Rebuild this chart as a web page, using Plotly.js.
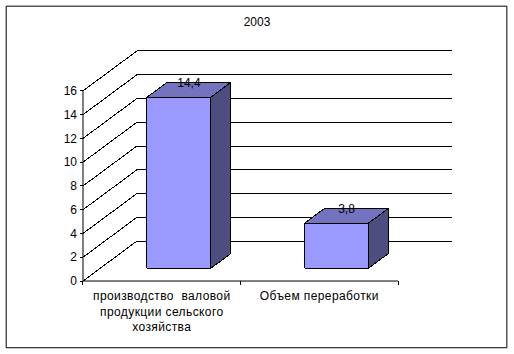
<!DOCTYPE html>
<html>
<head>
<meta charset="utf-8">
<script src="https://cdn.plot.ly/plotly-3.0.1.min.js"></script>
<style>
html,body{margin:0;padding:0;background:#fff}
#chart .scatterlayer path{shape-rendering:crispEdges}
#chart .xtick text{letter-spacing:0.4px}
</style>
</head>
<body>
<div id="chart" style="width:514px;height:354px"></div>
<script>
const categories = ["производство\u00A0\u00A0валовой<br>продукции сельского<br>хозяйства", "Объем переработки"];
const barValues = [14.4, 3.8];
const barLabels = ["14,4", "3,8"];
const valueTicks = [0, 2, 4, 6, 8, 10, 12, 14, 16];
const categoryEdges = [-0.5, 0.5, 1.5];
const chartTitle = "2003";

// oblique projection of the chart's depth axis, in axis units
const DX = 0.342, DY = 3.356;
const NEAR = 0.3175, FAR = 0.69, BAR_W = 0.405;
const X0 = -0.5, X1 = 1.5, YMAX = 16, LABEL_DROP = 0.15;
const UX = 158, UY = 11.934;                 // pixels per axis unit
const TICK_X = 3 / UX, TICK_Y = 4 / UY;      // tick lengths
const PAD_LEFT = 5, PAD_BOTTOM = 5, PAD_FAR = 2; // room for ticks and edge lines
const font = {family: "Liberation Sans, Arial, sans-serif", size: 12, color: "#000"};

const px = (x, d) => x + d * DX;
const py = (v, d) => v + d * DY;

// wall grid lines and tick marks as one path
const gx = [], gy = [];
const seg = (xs, ys) => { gx.push(...xs, null); gy.push(...ys, null); };
valueTicks.forEach(v => seg([px(X0,0), px(X0,1), px(X1,1)], [py(v,0), py(v,1), py(v,1)]));
valueTicks.forEach(v => seg([X0 - TICK_X, X0], [v, v]));
categoryEdges.forEach(c => seg([c, c], [0, -TICK_Y]));

const traces = [{
  type: "scatter", mode: "lines", x: gx, y: gy, hoverinfo: "skip", showlegend: false,
  line: {color: "#000", width: 1, simplify: false}
}];

const face = (xs, ys, fill) => ({
  type: "scatter", mode: "lines", x: xs.concat(xs[0]), y: ys.concat(ys[0]), fill: "toself",
  fillcolor: fill, line: {color: "#000", width: 1}, hoverinfo: "skip", showlegend: false
});

barValues.forEach((v, i) => {
  const l = i - BAR_W / 2, r = i + BAR_W / 2;
  traces.push(face(
    [px(l,NEAR), px(r,NEAR), px(r,NEAR), px(l,NEAR)],
    [py(0,NEAR), py(0,NEAR), py(v,NEAR), py(v,NEAR)], "#9999FF"));
  traces.push(face(
    [px(l,NEAR), px(r,NEAR), px(r,FAR), px(l,FAR)],
    [py(v,NEAR), py(v,NEAR), py(v,FAR), py(v,FAR)], "#7373BF"));
  traces.push(face(
    [px(r,NEAR), px(r,FAR), px(r,FAR), px(r,NEAR)],
    [py(0,NEAR), py(0,FAR), py(v,FAR), py(v,NEAR)], "#4D4D80"));
});

traces.push({
  type: "scatter", mode: "text",
  x: barValues.map((v, i) => px(i, (NEAR + FAR) / 2)),
  y: barValues.map(v => py(v, FAR) - LABEL_DROP),
  text: barLabels, textposition: "middle center", textfont: font,
  hoverinfo: "skip", showlegend: false
});

const L = 82.5 - PAD_LEFT, T = 50.5 - PAD_FAR, W = 370 + PAD_LEFT + PAD_FAR, H = 231 + PAD_BOTTOM + PAD_FAR;
const axisLine = (x0, y0, x1, y1) => ({
  type: "line", xref: "x", yref: "y", layer: "above", x0, y0, x1, y1,
  line: {color: "#000", width: 1}
});
const layout = {
  width: 514, height: 354, autosize: false,
  margin: {l: L, r: 514 - L - W, t: T, b: 354 - T - H, pad: 0},
  paper_bgcolor: "#fff", plot_bgcolor: "rgba(0,0,0,0)",
  font: font, showlegend: false,
  title: {text: chartTitle, font: font, x: (257 - L) / W, xref: "paper", xanchor: "center", yref: "container", y: 0.9375, yanchor: "middle"},
  xaxis: {
    type: "linear", range: [X0 - PAD_LEFT / UX, X1 + DX + PAD_FAR / UX], showgrid: false, zeroline: false, showline: false,
    tickmode: "array", tickvals: [0, 1], ticktext: categories, ticks: "", tickangle: 0,
    tickfont: font, fixedrange: true, ticklabelstandoff: 1
  },
  yaxis: {
    range: [-PAD_BOTTOM / UY, YMAX + DY + PAD_FAR / UY], showgrid: false, zeroline: false, showline: false,
    tickmode: "array", tickvals: valueTicks, ticktext: valueTicks.map(String),
    ticks: "", tickfont: font, fixedrange: true
  },
  shapes: [{
    type: "rect", xref: "paper", yref: "paper", layer: "below",
    x0: (5.5 - L) / W, x1: (507.5 - L) / W, y0: (T + H - 348.5) / H, y1: (T + H - 5.5) / H,
    line: {color: "#000", width: 1}, fillcolor: "#fff"
  },
  axisLine(X0, 0, X0, YMAX),
  axisLine(X0, 0, X1, 0)]
};
Plotly.newPlot("chart", traces, layout, {displayModeBar: false, staticPlot: true});
</script>
</body>
</html>
